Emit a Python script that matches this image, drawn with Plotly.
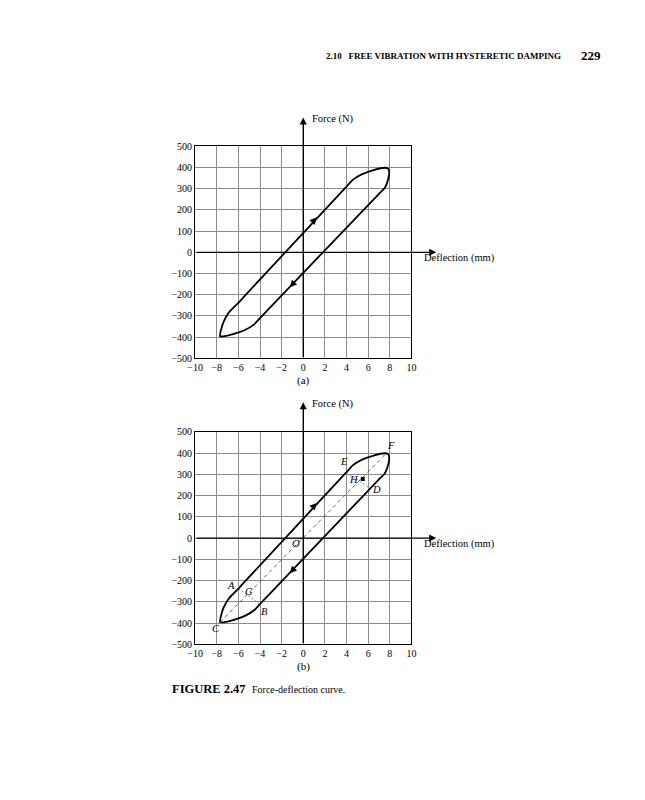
import plotly.graph_objects as go

# ---- data ----
loop_x = [-7.7, -7.62, -7.35, -6.9, -6.0, -5.5, 3.5, 4.0, 4.6, 5.4, 6.5, 7.5, 7.85, 7.95, 7.85, 7.55, 7.0, -3.5, -4.0, -4.6, -5.4, -6.5, -7.4, -7.7]
loop_y = [-396, -368, -325, -285, -238, -210, 283, 310, 343, 368, 388, 399, 395, 378, 345, 305, 276, -283, -310, -342, -366, -386, -396, -396]

diag_x = [-7.7, 7.7]
diag_y = [-396, 400]
ab_x = [-6.0, -4.0]
ab_y = [-238, -310]
ed_x = [4.0, 6.2]
ed_y = [310, 232]
h_x = [5.5]
h_y = [278]

x_ticks = [-10, -8, -6, -4, -2, 0, 2, 4, 6, 8, 10]
y_ticks = [-500, -400, -300, -200, -100, 0, 100, 200, 300, 400, 500]

point_names = ["A", "G", "B", "C", "E", "H", "D", "F", "O"]
point_x = [-6.7, -5.0, -3.6, -8.1, 3.8, 4.7, 6.8, 8.1, -0.7]
point_y = [-221, -252, -345, -423, 359, 274, 228, 437, -25]

W, H = 645, 800
SERIF = "Liberation Serif"

# pixel geometry of the two panels
X0, X1 = 191.0, 411.7
panels = [
    dict(top=142.3, bot=357.3, arrow_top=113.0, force_y=115.0, defl_y=255.5, cap_y=380.0, cap="(a)"),
    dict(top=431.7, bot=647.3, arrow_top=401.7, force_y=404.0, defl_y=546.0, cap_y=669.5, cap="(b)"),
]

fig = go.Figure()
annotations = []

for i, p in enumerate(panels):
    sfx = "" if i == 0 else str(i + 1)
    xa, ya = "x" + sfx, "y" + sfx
    fig.add_trace(go.Scatter(x=loop_x, y=loop_y, mode="lines", xaxis=xa, yaxis=ya,
                             line=dict(color="black", width=1.8, shape="spline", smoothing=0.6),
                             hoverinfo="skip"))
    if i == 1:
        fig.add_trace(go.Scatter(x=diag_x, y=diag_y, mode="lines", xaxis=xa, yaxis=ya,
                                 line=dict(color="#444", width=0.8, dash="4px,3px"), hoverinfo="skip"))
        for lx, ly in ((ab_x, ab_y), (ed_x, ed_y)):
            fig.add_trace(go.Scatter(x=lx, y=ly, mode="lines", xaxis=xa, yaxis=ya,
                                     line=dict(color="#666", width=0.8, dash="2px,2px"), hoverinfo="skip"))
        fig.add_trace(go.Scatter(x=h_x, y=h_y, mode="markers", xaxis=xa, yaxis=ya,
                                 marker=dict(color="black", size=4, symbol="square"), hoverinfo="skip"))
        for n, px, py in zip(point_names, point_x, point_y):
            annotations.append(dict(x=px, y=py, xref=xa, yref=ya, text="<i>%s</i>" % n, showarrow=False,
                                    font=dict(family=SERIF, size=10.5, color="#000000")))

    dom_y = [1 - p["bot"] / H, 1 - p["top"] / H]
    axis_common = dict(showgrid=True, gridcolor="#8c8c8c", gridwidth=1, showline=True, linecolor="black",
                       linewidth=1.2, mirror=True, zeroline=False, ticks="",
                       tickfont=dict(family=SERIF, size=10, color="black"))
    fig.update_layout(**{
        "xaxis" + sfx: dict(domain=[X0 / W, X1 / W], anchor=ya, range=[-10, 10], tickvals=x_ticks, **axis_common),
        "yaxis" + sfx: dict(domain=dom_y, anchor=xa, range=[-500, 500], tickvals=y_ticks, **axis_common),
    })

    # axis arrows
    ph = p["bot"] - p["top"]
    annotations.append(dict(x=0, xref=xa, y=(p["bot"] - p["arrow_top"]) / ph, yref=ya + " domain",
                            ax=0, axref=xa, ay=0, ayref=ya + " domain", showarrow=True, text="",
                            arrowhead=2, arrowsize=1, arrowwidth=1.4, arrowcolor="black"))
    annotations.append(dict(x=(437 - X0) / (X1 - X0), xref=xa + " domain", y=0, yref=ya,
                            ax=0, axref=xa + " domain", ay=0, ayref=ya, showarrow=True, text="",
                            arrowhead=2, arrowsize=1, arrowwidth=1.4, arrowcolor="black"))
    # curve direction arrows
    annotations.append(dict(x=1.25, y=165, xref=xa, yref=ya, ax=0.85, ay=143,
                            axref=xa, ayref=ya, showarrow=True, text="", arrowhead=2, arrowsize=1,
                            arrowwidth=1.4, arrowcolor="black"))
    annotations.append(dict(x=-1.25, y=-165, xref=xa, yref=ya, ax=-0.85, ay=-143,
                            axref=xa, ayref=ya, showarrow=True, text="", arrowhead=2, arrowsize=1,
                            arrowwidth=1.4, arrowcolor="black"))
    # labels
    annotations.append(dict(x=308 / W, y=1 - p["force_y"] / H, xref="paper", yref="paper", text="Force (N)",
                            showarrow=False, xanchor="left", yanchor="middle",
                            font=dict(family=SERIF, size=10.5, color="black")))
    annotations.append(dict(x=423 / W, y=1 - p["defl_y"] / H, xref="paper", yref="paper", text="Deflection (mm)",
                            showarrow=False, xanchor="left", yanchor="middle",
                            font=dict(family=SERIF, size=10.5, color="black")))
    annotations.append(dict(x=301.7 / W, y=1 - p["cap_y"] / H, xref="paper", yref="paper", text=p["cap"],
                            showarrow=False, xanchor="center", yanchor="middle",
                            font=dict(family=SERIF, size=11, color="black")))

# page header and figure caption
annotations.append(dict(x=322 / W, y=1 - 50.5 / H, xref="paper", yref="paper",
                        text="<b>2.10&nbsp;&nbsp;&nbsp;FREE VIBRATION WITH HYSTERETIC DAMPING</b>",
                        showarrow=False, xanchor="left", yanchor="middle",
                        font=dict(family=SERIF, size=9, color="black")))
annotations.append(dict(x=583 / W, y=1 - 50 / H, xref="paper", yref="paper", text="<b>229</b>",
                        showarrow=False, xanchor="left", yanchor="middle",
                        font=dict(family=SERIF, size=13, color="black")))
annotations.append(dict(x=165 / W, y=1 - 692.5 / H, xref="paper", yref="paper", text="<b>FIGURE 2.47</b>",
                        showarrow=False, xanchor="left", yanchor="middle",
                        font=dict(family=SERIF, size=12.5, color="black")))
annotations.append(dict(x=247 / W, y=1 - 693 / H, xref="paper", yref="paper", text="Force-deflection curve.",
                        showarrow=False, xanchor="left", yanchor="middle",
                        font=dict(family=SERIF, size=10, color="black")))

fig.update_layout(width=W, height=H, margin=dict(l=0, r=0, t=0, b=0), showlegend=False,
                  paper_bgcolor="white", plot_bgcolor="white", annotations=annotations)

fig.write_html("out.html", config={"displayModeBar": False},
               post_script="document.body.style.margin='0';")
